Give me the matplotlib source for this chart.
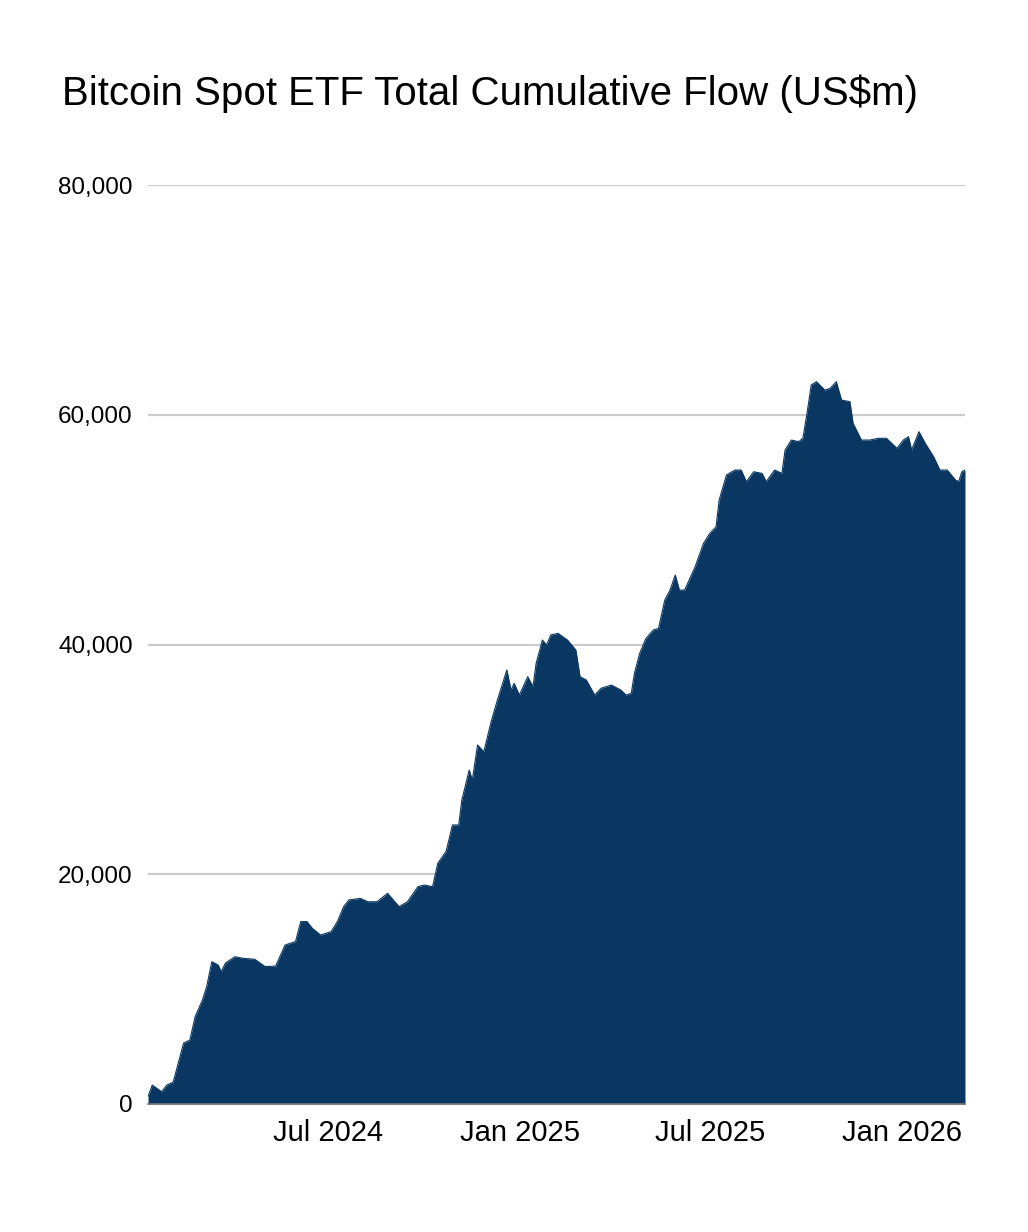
import matplotlib
matplotlib.use("Agg")
import matplotlib.pyplot as plt
import matplotlib.dates as mdates
import matplotlib.ticker as mticker
import pandas as pd

plt.rcParams['font.family'] = ['Liberation Sans', 'DejaVu Sans']

dates = [
    "2024-01-11", "2024-01-15", "2024-01-24", "2024-01-29", "2024-02-04", "2024-02-08",
    "2024-02-14", "2024-02-20", "2024-02-25", "2024-03-03", "2024-03-07", "2024-03-12",
    "2024-03-18", "2024-03-21", "2024-03-25", "2024-04-03", "2024-04-11", "2024-04-22",
    "2024-05-02", "2024-05-12", "2024-05-21", "2024-05-31", "2024-06-05", "2024-06-11",
    "2024-06-16", "2024-06-24", "2024-07-04", "2024-07-10", "2024-07-16", "2024-07-21",
    "2024-08-01", "2024-08-08", "2024-08-17", "2024-08-27", "2024-09-07", "2024-09-15",
    "2024-09-25", "2024-10-01", "2024-10-09", "2024-10-14", "2024-10-22", "2024-10-28",
    "2024-11-03", "2024-11-06", "2024-11-13", "2024-11-16", "2024-11-21", "2024-11-27",
    "2024-12-04", "2024-12-10", "2024-12-19", "2024-12-23", "2024-12-26", "2024-12-31",
    "2025-01-08", "2025-01-13", "2025-01-16", "2025-01-22", "2025-01-26", "2025-01-30",
    "2025-02-06", "2025-02-15", "2025-02-23", "2025-02-27", "2025-03-05", "2025-03-13",
    "2025-03-19", "2025-03-29", "2025-04-07", "2025-04-12", "2025-04-17", "2025-04-20",
    "2025-04-25", "2025-05-01", "2025-05-08", "2025-05-13", "2025-05-19", "2025-05-24",
    "2025-05-29", "2025-06-02", "2025-06-07", "2025-06-17", "2025-06-25", "2025-07-01",
    "2025-07-07", "2025-07-10", "2025-07-17", "2025-07-25", "2025-07-31", "2025-08-05",
    "2025-08-12", "2025-08-20", "2025-08-24", "2025-09-01", "2025-09-08", "2025-09-11",
    "2025-09-17", "2025-09-24", "2025-09-28", "2025-10-02", "2025-10-06", "2025-10-11",
    "2025-10-19", "2025-10-24", "2025-10-30", "2025-11-04", "2025-11-12", "2025-11-15",
    "2025-11-23", "2025-12-01", "2025-12-09", "2025-12-17", "2025-12-27", "2026-01-02",
    "2026-01-07", "2026-01-10", "2026-01-17", "2026-01-23", "2026-01-31", "2026-02-06",
    "2026-02-13", "2026-02-21", "2026-02-24", "2026-02-27", "2026-03-02",
]

cumulative_flow = [
    650, 1650, 1070, 1650, 1900, 3250,
    5300, 5570, 7600, 9050, 10200, 12390,
    12100, 11520, 12270, 12820, 12680, 12600,
    11960, 12010, 13840, 14140, 15880, 15880,
    15300, 14710, 15000, 15880, 17180, 17760,
    17900, 17610, 17610, 18340, 17180, 17610,
    18920, 19060, 18920, 20960, 22000, 24290,
    24290, 26460, 29070, 28200, 31250, 30670,
    33280, 35170, 37780, 36040, 36620, 35600,
    37200, 36330, 38360, 40390, 39960, 40830,
    40970, 40390, 39520, 37200, 36910, 35600,
    36190, 36470, 36040, 35600, 35750, 37490,
    39230, 40530, 41260, 41400, 43870, 44740,
    46050, 44740, 44740, 46770, 48800, 49670,
    50250, 52580, 54760, 55190, 55190, 54180,
    55040, 54900, 54180, 55190, 54900, 56930,
    57800, 57660, 57950, 60130, 62590, 62880,
    62150, 62300, 62880, 61280, 61140, 59260,
    57800, 57800, 57950, 57950, 57080, 57800,
    58090, 56930, 58530, 57520, 56350, 55190,
    55190, 54320, 54180, 55040, 55190,
]

y_ticks = [0, 20000, 40000, 60000, 80000]
x_ticks = ["2024-07-01", "2025-01-01", "2025-07-01", "2026-01-01"]
title = "Bitcoin Spot ETF Total Cumulative Flow (US$m)"

x = pd.to_datetime(dates)
fill_color = "#0a3761"

fig = plt.figure(figsize=(10.28, 12.32), dpi=100)
ax = fig.add_axes([0.144, 0.1039, 0.7947, 0.7459])

ax.fill_between(x, 0, cumulative_flow, color=fill_color, linewidth=0, zorder=2)
ax.plot(x, cumulative_flow, color=fill_color, linewidth=0.8, zorder=2)

ax.set_xlim(x[0], x[-1])
ax.set_ylim(0, 80000)
ax.set_yticks(y_ticks)
ax.yaxis.set_major_formatter(mticker.FuncFormatter(lambda v, p: f"{int(v):,}"))
ax.set_xticks(pd.to_datetime(x_ticks))
ax.xaxis.set_major_formatter(mdates.DateFormatter("%b %Y"))

ax.grid(axis='y', color='#cccccc', linewidth=1.6, zorder=1)
ax.set_axisbelow(True)
for s in ['top', 'right', 'left']:
    ax.spines[s].set_visible(False)
ax.spines['bottom'].set_color('#777777')
ax.spines['bottom'].set_linewidth(1.2)
ax.spines['bottom'].set_zorder(3)
ax.tick_params(axis='both', length=0, colors='black')
ax.tick_params(axis='y', pad=11, labelsize=17.5)
ax.tick_params(axis='x', pad=11, labelsize=21)

fig.text(62 / 1028, 1 - 94 / 1232, title, fontsize=29, va='center', ha='left', color='black')

fig.savefig("out.png", dpi=100, facecolor='white')
